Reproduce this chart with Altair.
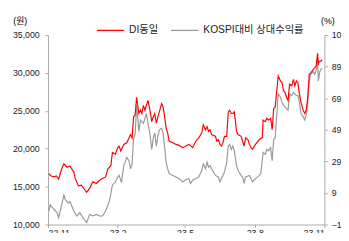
import altair as alt
import pandas as pd

# DI동일 share price (원), left axis
price_dates = ["2022-11-02","2022-11-05","2022-11-09","2022-11-12","2022-11-15","2022-11-17","2022-11-19","2022-11-22","2022-11-26","2022-11-30",
"2022-12-05","2022-12-07","2022-12-11","2022-12-15","2022-12-22","2022-12-26","2022-12-30","2023-01-04","2023-01-08","2023-01-12",
"2023-01-16","2023-01-19","2023-01-23","2023-01-25","2023-01-29","2023-02-01","2023-02-03","2023-02-05","2023-02-09","2023-02-13",
"2023-02-18","2023-02-20","2023-02-22","2023-02-24","2023-02-26","2023-03-01","2023-03-03","2023-03-05","2023-03-07","2023-03-09",
"2023-03-13","2023-03-16","2023-03-18","2023-03-20","2023-03-22","2023-03-24","2023-03-26","2023-03-28","2023-03-31","2023-04-02",
"2023-04-04","2023-04-06","2023-04-08","2023-04-10","2023-04-15","2023-04-19","2023-04-23","2023-04-28","2023-05-02","2023-05-06",
"2023-05-11","2023-05-15","2023-05-19","2023-05-23","2023-05-25","2023-05-28","2023-05-30","2023-06-01","2023-06-03","2023-06-05",
"2023-06-10","2023-06-12","2023-06-14","2023-06-16","2023-06-18","2023-06-20","2023-06-22","2023-06-25","2023-06-27","2023-06-29",
"2023-07-01","2023-07-03","2023-07-05","2023-07-08","2023-07-10","2023-07-14","2023-07-16","2023-07-18","2023-07-20","2023-07-23",
"2023-07-25","2023-07-27","2023-07-29","2023-08-02","2023-08-07","2023-08-11","2023-08-12","2023-08-15","2023-08-17","2023-08-19",
"2023-08-22","2023-08-24","2023-08-26","2023-08-28","2023-09-01","2023-09-04","2023-09-06","2023-09-08","2023-09-10","2023-09-12",
"2023-09-14","2023-09-16","2023-09-19","2023-09-21","2023-09-23","2023-09-25","2023-09-27","2023-09-29","2023-10-01","2023-10-04",
"2023-10-06","2023-10-08","2023-10-10","2023-10-12","2023-10-14","2023-10-17","2023-10-19","2023-10-21","2023-10-23","2023-10-24",
"2023-10-25","2023-10-27","2023-10-29"]
price_values = [16700,16400,16280,16400,15970,16700,17350,18000,17560,17730,
16920,16050,15090,15190,14250,14770,15630,15410,15840,16060,
16280,17350,17770,19500,19280,20140,20310,19700,20570,20790,
21860,21430,24210,24430,26790,24650,25080,24650,25720,25080,
26370,24860,23570,24210,24650,23360,24210,24860,25940,25500,
24210,22720,22070,20990,20790,20570,20440,20140,20350,20570,
20140,20990,21430,22070,23140,22500,22920,22280,22500,21860,
21640,20990,21210,20570,20350,20790,21640,21640,24860,25080,
24650,24650,24860,22280,21860,21640,20990,20350,21430,21210,
20570,20140,19920,20570,21210,21430,23790,23570,24010,23790,
24010,22500,25300,25500,29590,28940,28720,27650,27430,26790,
26370,28520,28300,29160,28300,28940,28720,27230,26150,25080,
24650,25080,26790,29810,30010,30450,30660,30880,32590,31100,
31520,31520,31740]

# KOSPI대비 상대수익률 (%), right axis
rel_dates = ["2022-11-02","2022-11-04","2022-11-09","2022-11-13","2022-11-15","2022-11-19","2022-11-22","2022-11-24","2022-11-28","2022-11-30",
"2022-12-05","2022-12-09","2022-12-13","2022-12-17","2022-12-22","2022-12-26","2022-12-30","2023-01-04","2023-01-08","2023-01-12",
"2023-01-16","2023-01-21","2023-01-25","2023-01-29","2023-02-01","2023-02-03","2023-02-06","2023-02-09","2023-02-13","2023-02-16",
"2023-02-18","2023-02-20","2023-02-22","2023-02-24","2023-02-26","2023-03-01","2023-03-03","2023-03-07","2023-03-11","2023-03-13",
"2023-03-16","2023-03-18","2023-03-20","2023-03-22","2023-03-24","2023-03-26","2023-03-28","2023-03-31","2023-04-02","2023-04-04",
"2023-04-06","2023-04-08","2023-04-10","2023-04-15","2023-04-19","2023-04-23","2023-04-28","2023-05-02","2023-05-06","2023-05-08",
"2023-05-11","2023-05-15","2023-05-19","2023-05-23","2023-05-25","2023-05-28","2023-05-30","2023-06-01","2023-06-03","2023-06-05",
"2023-06-10","2023-06-14","2023-06-16","2023-06-18","2023-06-20","2023-06-22","2023-06-25","2023-06-27","2023-06-29","2023-07-01",
"2023-07-03","2023-07-05","2023-07-08","2023-07-10","2023-07-14","2023-07-16","2023-07-18","2023-07-20","2023-07-25","2023-07-27",
"2023-07-29","2023-08-02","2023-08-07","2023-08-09","2023-08-12","2023-08-15","2023-08-17","2023-08-19","2023-08-22","2023-08-24",
"2023-08-26","2023-08-28","2023-09-01","2023-09-04","2023-09-06","2023-09-08","2023-09-10","2023-09-12","2023-09-14","2023-09-16",
"2023-09-19","2023-09-21","2023-09-23","2023-09-25","2023-09-27","2023-09-29","2023-10-01","2023-10-04","2023-10-06","2023-10-08",
"2023-10-10","2023-10-12","2023-10-14","2023-10-17","2023-10-19","2023-10-21","2023-10-23","2023-10-24","2023-10-26","2023-10-29"]
rel_values = [-2.5,1.5,-1.5,-3.6,-6.7,1.5,7.7,4.6,2.6,3.6,
-2.5,-5.6,-3.6,-6.7,-9.8,-4.6,-5.6,-4.6,-5.6,-5.6,
-2.5,3.6,13.9,16.0,19.1,20.1,15.6,26.3,31.5,29.4,
24.3,27.3,43.9,45.9,64.5,47.9,55.2,53.1,59.3,53.1,
44.9,36.6,43.9,47.0,38.7,44.9,49.0,50.0,47.0,37.7,
28.4,24.3,21.2,20.1,19.1,18.1,16.0,17.4,18.1,15.0,
17.0,18.1,19.1,23.2,27.3,24.3,28.4,25.3,26.3,24.3,
20.1,19.1,16.0,18.1,20.1,22.2,28.4,38.7,39.7,36.6,
38.7,35.6,26.3,23.2,20.1,19.1,15.0,19.1,20.1,18.1,
16.0,18.1,20.1,21.2,34.6,33.5,36.6,35.6,37.7,29.4,
42.8,43.9,71.7,69.6,66.5,64.5,63.4,62.4,61.4,71.7,
70.6,72.7,71.7,70.6,70.6,66.5,59.3,57.2,55.2,58.3,
66.5,79.9,84.1,86.1,84.1,86.1,94.3,79.9,86.1,88.0]

series_names = ["DI동일", "KOSPI대비 상대수익률"]
series_colors = ["#ff0000", "#999999"]
left_ticks = [10000, 15000, 20000, 25000, 30000, 35000]
right_ticks = [-11, 9, 29, 49, 69, 89, 109]
x_ticks = ["2022-11-01", "2023-02-01", "2023-05-01", "2023-08-01", "2023-11-01"]

df = pd.concat([
    pd.DataFrame({"date": price_dates, "value": price_values, "series": series_names[0]}),
    pd.DataFrame({"date": rel_dates, "value": rel_values, "series": series_names[1]}),
])

FONT = "Liberation Sans, Noto Sans CJK KR, sans-serif"

def xdt(s):
    y, m, d = map(int, s.split("-"))
    return alt.DateTime(year=y, month=m, date=d, utc=True)

xenc = alt.X("date:T", scale=alt.Scale(type="utc", domain=[xdt(x_ticks[0]), xdt(x_ticks[-1])]),
             axis=alt.Axis(values=[xdt(v) for v in x_ticks], labelExpr="utcFormat(datum.value, '%y.%-m')",
                           title=None, grid=False, tickSize=3, labelPadding=1, domainColor="#aaaaaa",
                           tickColor="#aaaaaa"))

color = alt.Color("series:N", scale=alt.Scale(domain=series_names, range=series_colors),
                  legend=alt.Legend(orient="none", legendX=49, legendY=-20, direction="horizontal",
                                    title=None, symbolType="stroke", symbolSize=784, symbolStrokeWidth=1.3,
                                    labelFontSize=10.5, labelFont=FONT, labelColor="#222222",
                                    columnPadding=10, labelOffset=4, padding=0))

left = alt.Chart(df).transform_filter(alt.datum.series == series_names[0]).mark_line(strokeWidth=1.2).encode(
    x=xenc,
    y=alt.Y("value:Q", scale=alt.Scale(domain=[10000, 35000], nice=False),
            axis=alt.Axis(values=left_ticks, labelExpr="format(datum.value, ',d')", title="(원)", titleAngle=0,
                          titleX=-36, titleY=-15,
                          titleAlign="left", titleBaseline="middle", titleFontWeight="normal", titleFontSize=9,
                          titleFont=FONT, grid=False, tickSize=3, labelPadding=6, domainColor="#aaaaaa",
                          tickColor="#aaaaaa")),
    color=color,
)

right = alt.Chart(df).transform_filter(alt.datum.series == series_names[1]).mark_line(strokeWidth=1.2).encode(
    x=xenc,
    y=alt.Y("value:Q", scale=alt.Scale(domain=[-11, 109], nice=False),
            axis=alt.Axis(orient="right", values=right_ticks, title="(%)", titleAngle=0, titleX=3, titleY=-15,
                          titleAlign="center", titleBaseline="middle", titleFontWeight="normal", titleFontSize=9,
                          titleFont=FONT, grid=False, tickSize=3, labelPadding=4, domainColor="#aaaaaa",
                          tickColor="#aaaaaa")),
    color=color,
)

chart = alt.layer(right, left).resolve_scale(y="independent").properties(
    width=283, height=194,
    autosize=alt.AutoSizeParams(type="none"),
    padding={"left": 41, "top": 25, "right": 17, "bottom": 6},
).configure_view(stroke=None).configure_axis(
    labelFont=FONT, labelFontSize=9, labelColor="#222222"
)

chart.save("out.html", embed_options={"renderer": "svg", "actions": False})
